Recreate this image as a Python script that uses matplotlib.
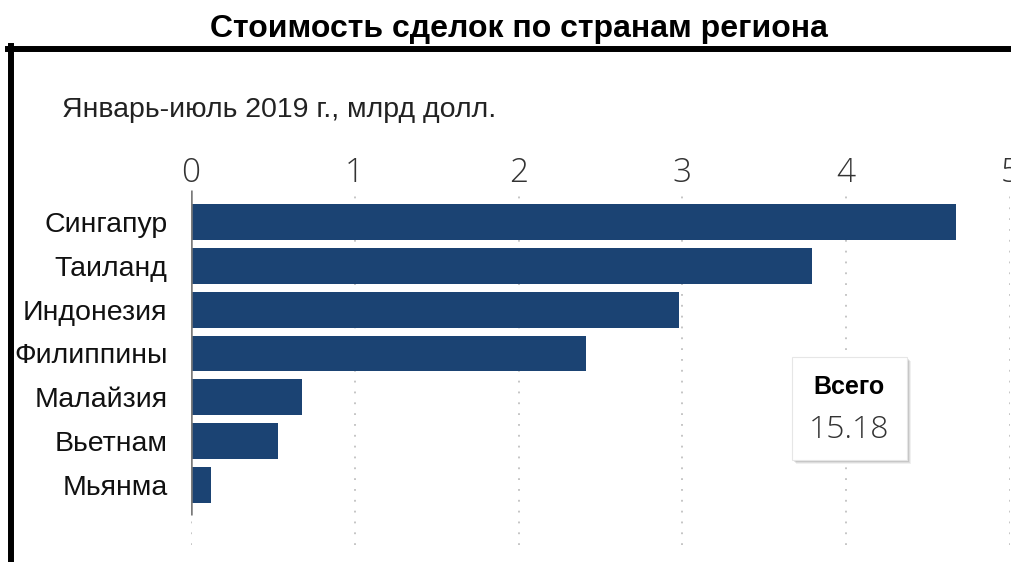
import matplotlib.pyplot as plt
from matplotlib.lines import Line2D
from matplotlib.patches import Rectangle

countries = ['Сингапур', 'Таиланд', 'Индонезия', 'Филиппины', 'Малайзия', 'Вьетнам', 'Мьянма']
values = [4.67, 3.79, 2.98, 2.41, 0.68, 0.53, 0.12]
total_label = 'Всего'
total_value = '15.18'
title = 'Стоимость сделок по странам региона'
subtitle = 'Январь-июль 2019 г., млрд долл.'
xticks = [0, 1, 2, 3, 4, 5]

W, H = 1011, 562
BAR = '#1b4373'


def fx(px):
    return px / W


def fy(py):
    return 1 - py / H


fig = plt.figure(figsize=(W / 100, H / 100), dpi=100)
fig.patch.set_facecolor('white')

ax = fig.add_axes([fx(191), fy(545), fx(1010) - fx(191), fy(190) - fy(545)])
pos = list(range(len(countries)))
ax.barh(pos, values, height=0.82, color=BAR, zorder=3)
ax.set_xlim(0, 5)
ax.set_ylim(7.37, -0.73)

ax.xaxis.tick_top()
ax.set_xticks(xticks)
ax.set_xticklabels([str(t) for t in xticks], family='Open Sans', fontweight='light',
                   fontsize=24, color='#333333')
ax.tick_params(axis='x', length=0, pad=0)
ax.set_yticks(pos)
ax.set_yticklabels(countries, family='Liberation Sans', fontsize=20.5, color='#111111')
ax.tick_params(axis='y', length=0, pad=17)

ax.xaxis.grid(True, linestyle=(0, (1, 5)), color='#c0c0c0', linewidth=1.3, zorder=0)
ax.vlines(0, -0.73, 6.68, color='#7a7a7a', linewidth=1.8, zorder=4)
for s in ax.spines.values():
    s.set_visible(False)

# frame lines
fig.add_artist(Line2D([fx(8), 1], [fy(49), fy(49)], color='black', linewidth=4.3))
fig.add_artist(Line2D([fx(11), fx(11)], [fy(46), 0], color='black', linewidth=4.3))

fig.text(fx(519), fy(29), title, ha='center', va='center', family='Liberation Sans',
         fontweight='bold', fontsize=23, color='black')
fig.text(fx(62), fy(110), subtitle, ha='left', va='center', family='Liberation Sans',
         fontsize=20.5, color='#222222')

# total box with shadow
for i, a in enumerate([0.06, 0.08, 0.10]):
    d = 4 - i
    fig.add_artist(Rectangle((fx(792 + d), fy(460 + d)), fx(115), 103 / H,
                             facecolor='black', alpha=a, edgecolor='none'))
fig.add_artist(Rectangle((fx(792), fy(460)), fx(115), 103 / H,
                         facecolor='white', edgecolor='#e6e6e6', linewidth=0.8))
fig.text(fx(849), fy(387), total_label, ha='center', va='center', family='Liberation Sans',
         fontweight='bold', fontsize=18, color='black')
fig.text(fx(849), fy(430), total_value, ha='center', va='center', family='Open Sans',
         fontweight='light', fontsize=23, color='#333333')

fig.savefig('out.png', dpi=100)
